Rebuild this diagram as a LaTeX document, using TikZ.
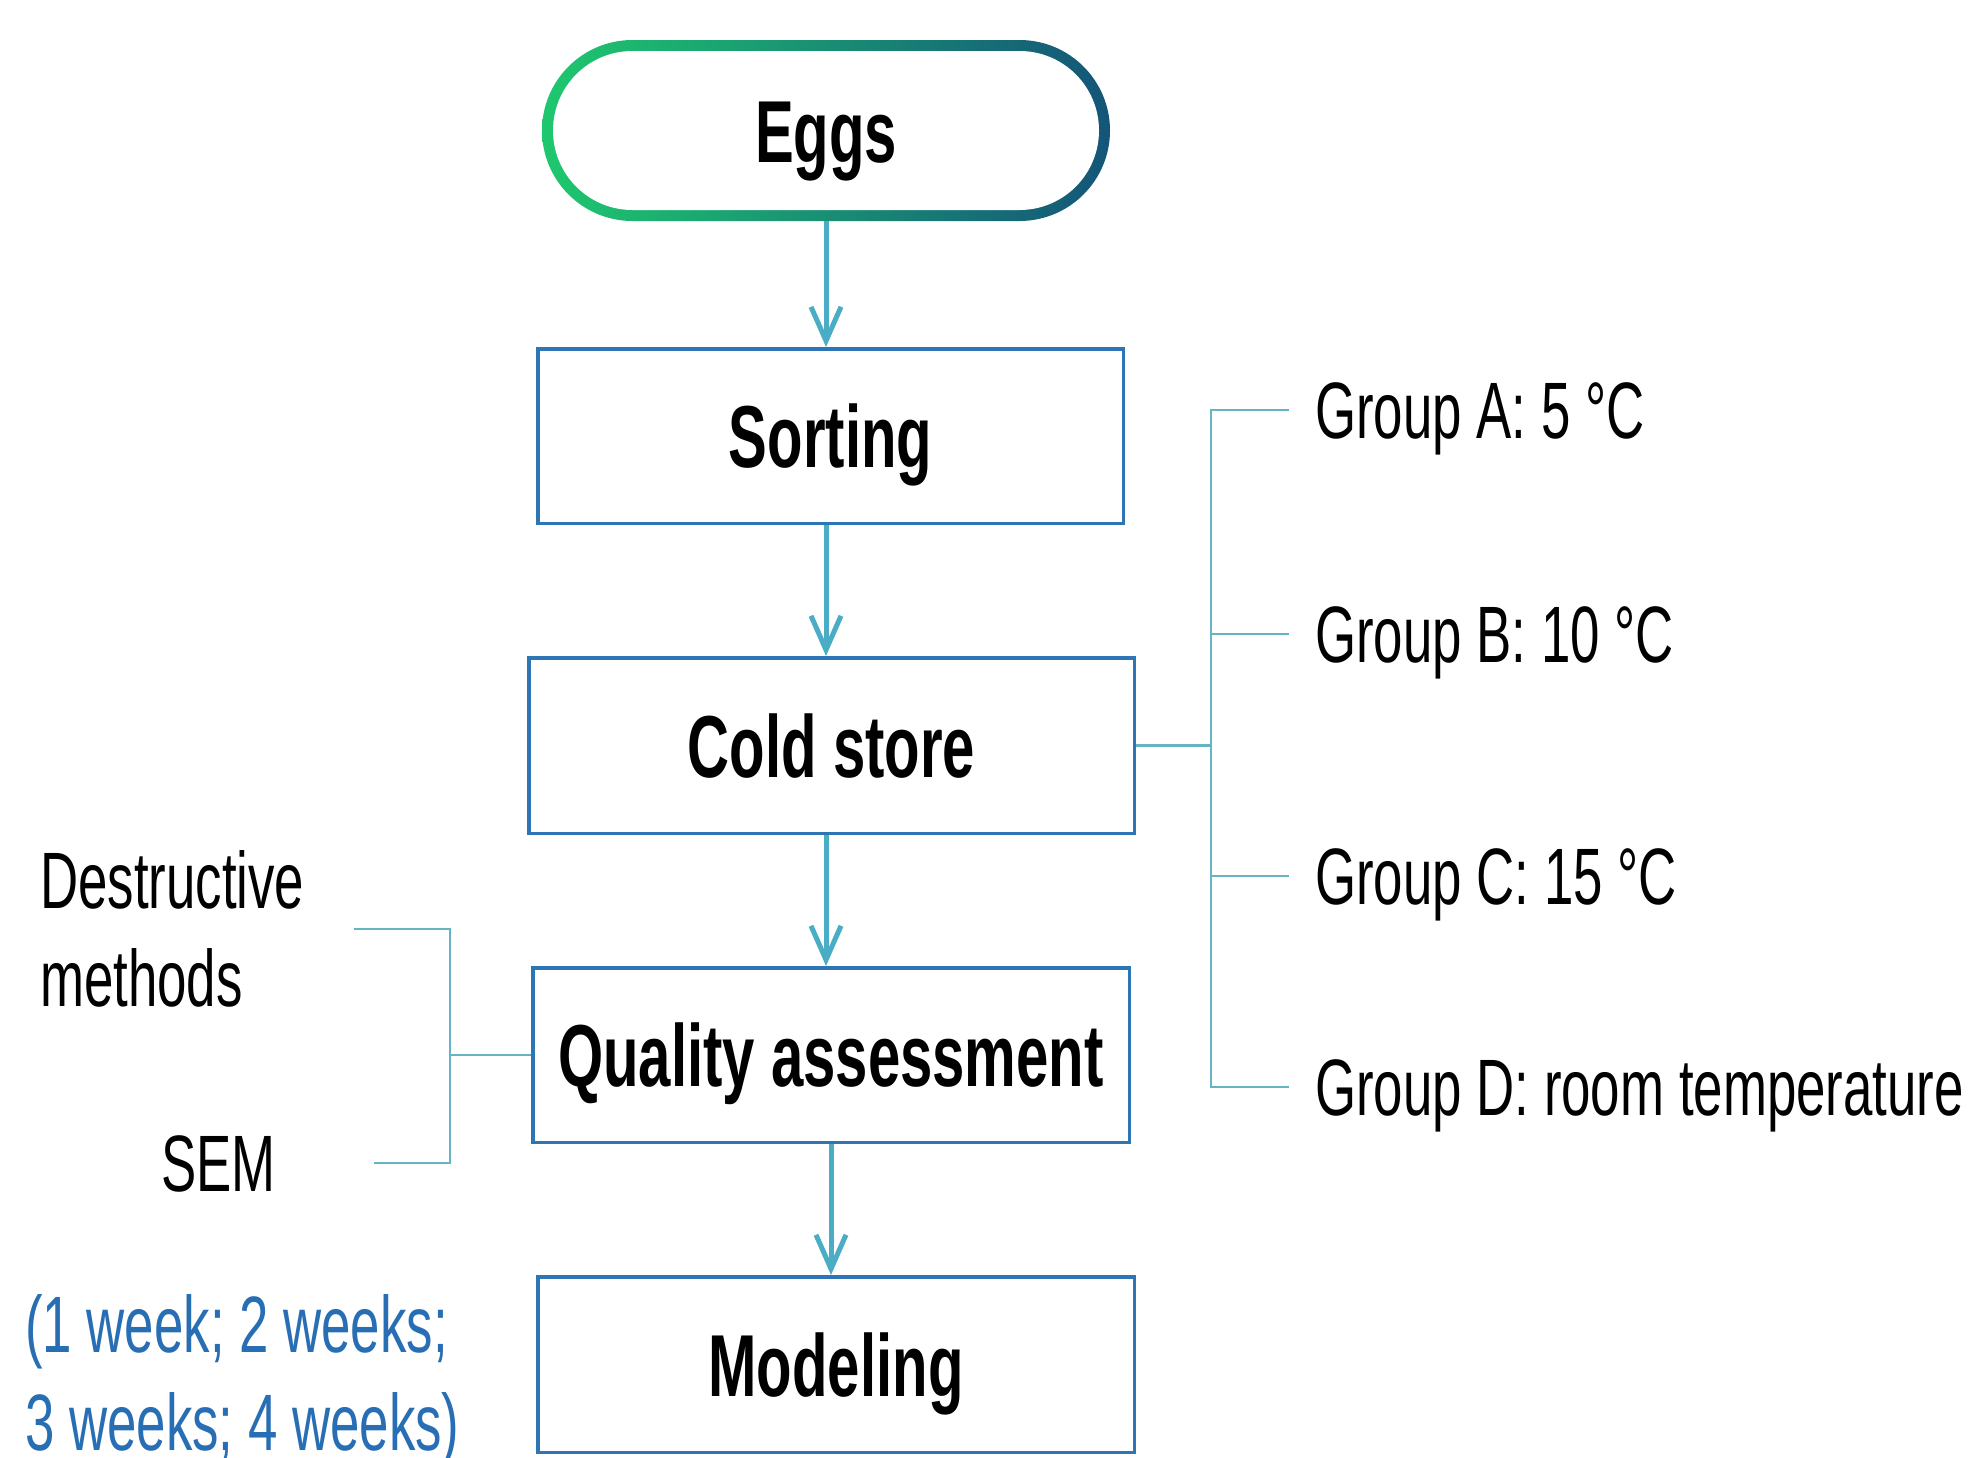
\documentclass[tikz,border=0pt]{standalone}
\usepackage{fontspec}
\setmainfont[FakeStretch=0.66]{Liberation Sans}
\usetikzlibrary{arrows.meta}
\definecolor{boxblue}{RGB}{46,117,182}
\definecolor{arrowc}{RGB}{75,172,198}
\definecolor{brack}{RGB}{100,180,195}
\definecolor{weekblue}{RGB}{40,110,180}
\definecolor{eggL}{RGB}{30,200,110}
\definecolor{eggM}{RGB}{25,165,118}
\definecolor{eggR}{RGB}{20,85,120}
\begin{document}
\begin{tikzpicture}[x=1pt,y=-1pt,
  stepbox/.style={draw=boxblue, line width=3.5pt, fill=white, inner sep=0pt,
    font=\fontsize{88}{98}\selectfont\bfseries, text height=63pt, text depth=0pt},
  flow/.style={draw=arrowc, line width=5pt, -{Straight Barb[length=34pt,width=30pt]}},
  brace/.style={draw=brack, line width=2.5pt},
  lbl/.style={font=\fontsize{80}{98}\selectfont, inner sep=0pt, text height=57pt, text depth=0pt},
  grp/.style={lbl, anchor=west, inner xsep=26pt},
  multi/.style={font=\fontsize{80}{98}\selectfont, inner sep=0pt, align=left, anchor=base west}]
\useasboundingbox (0,0) rectangle (1977,1457);

% Eggs pill with gradient outline
\shade[left color=eggL, middle color=eggM, right color=eggR, rounded corners=90.5pt]
  (542,40) rectangle (1110,221);
\fill[white, rounded corners=79.5pt] (553,51) rectangle (1099,210);
\node[inner sep=0pt, minimum width=568pt, minimum height=181pt,
  font=\fontsize{88}{98}\selectfont\bfseries, text height=63pt, text depth=0pt]
  (eggs) at (826,130.5) {Eggs};

% Process boxes
\node[stepbox, minimum width=585.5pt, minimum height=174.5pt] (sort) at (830.5,436) {Sorting};
\node[stepbox, minimum width=605.5pt, minimum height=175.5pt] (cold) at (831.5,745.5) {Cold store};
\node[stepbox, minimum width=596.5pt, minimum height=174.5pt] (qa) at (831,1055) {Quality assessment};
\node[stepbox, minimum width=596.5pt, minimum height=175.5pt] (model) at (836,1364.5) {Modeling};

% Arrows
\draw[flow] (eggs.south) -- (eggs.south |- sort.north);
\draw[flow] (eggs.south |- sort.south) -- (eggs.south |- cold.north);
\draw[flow] (eggs.south |- cold.south) -- (eggs.south |- qa.north);
\draw[flow] (qa.south) -- (qa.south |- model.north);

% Right bracket: storage groups
\node[grp] (gA) at (1289,410) {Group A: 5 °C};
\node[grp] (gB) at (1289,634) {Group B: 10 °C};
\node[grp] (gC) at (1289,876) {Group C: 15 °C};
\node[grp] (gD) at (1289,1087) {Group D: room temperature};
\coordinate (rb) at (1211,745.5);
\draw[brace] (gA.west) -- (gA.west -| rb) -- (gD.west -| rb) -- (gD.west);
\draw[brace] (gB.west -| rb) -- (gB.west);
\draw[brace] (gC.west -| rb) -- (gC.west);
\draw[brace] (cold.east) -- (rb);

% Left bracket: assessment methods
\node[multi] (dm) at (40,1006) {Destructive\\methods};
\node[lbl, anchor=west] (sem) at (161,1163) {SEM};
\coordinate (lt) at (354,929);
\coordinate (lbb) at (374,1163);
\coordinate (lb) at (450,1055);
\draw[brace] (lt) -- (lt -| lb) -- (lbb -| lb) -- (lbb);
\draw[brace] (lb) -- (qa.west);

% Storage times
\node[multi, text=weekblue] (wk) at (25,1450) {(1 week; 2 weeks;\\3 weeks; 4 weeks)};
\end{tikzpicture}
\end{document}
